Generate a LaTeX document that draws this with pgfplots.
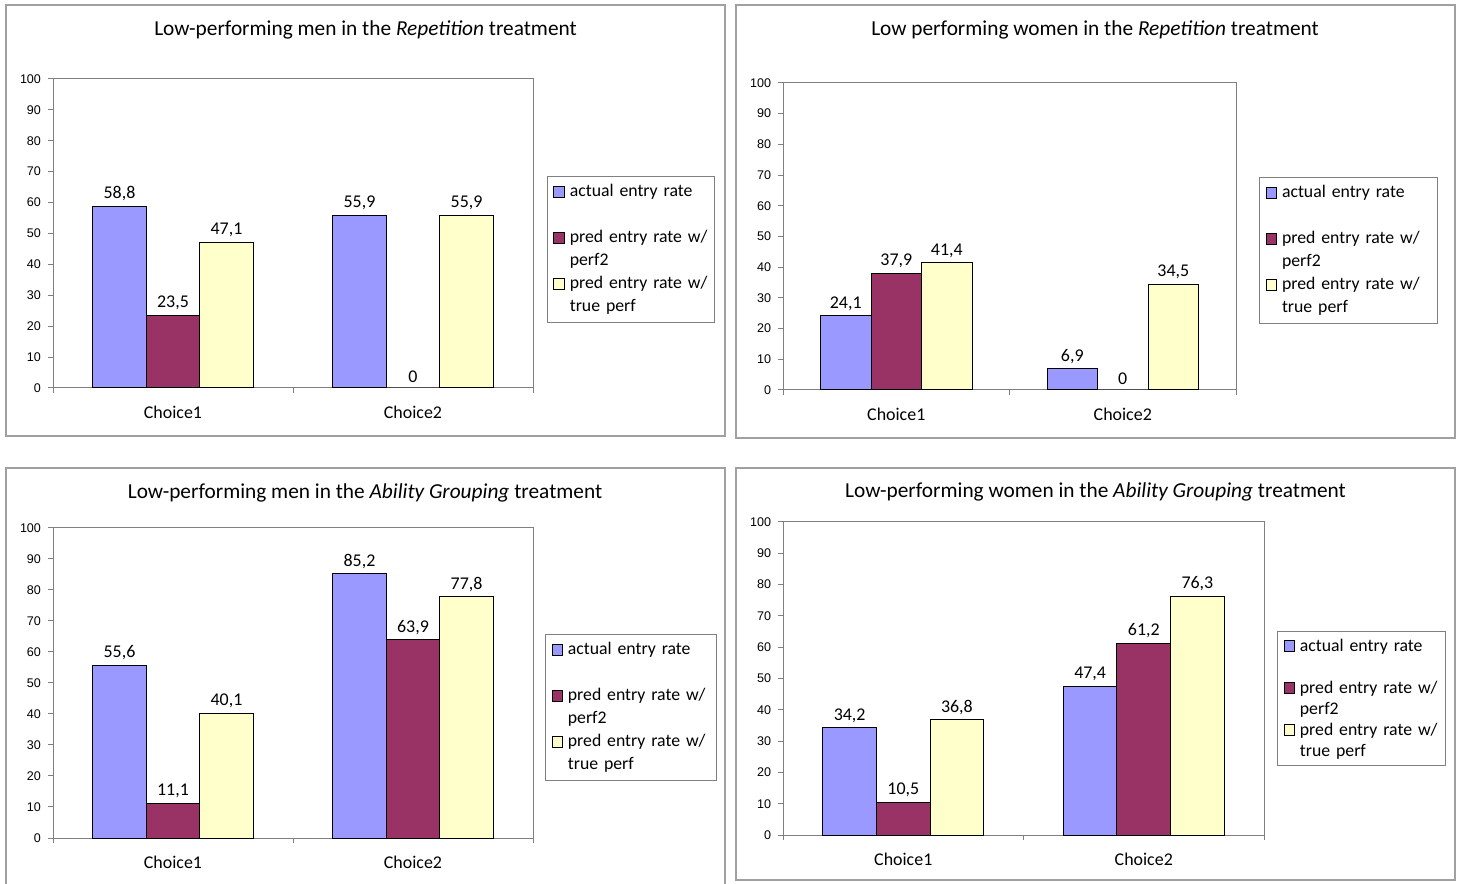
\documentclass[border=0pt]{standalone}
\usepackage{fontspec}
\setmainfont{Carlito}
\newfontfamily\arialfont{Liberation Sans}
\usepackage{pgfplots}
\pgfplotsset{compat=1.18}

\definecolor{actual}{HTML}{9999FF}
\definecolor{perftwo}{HTML}{993366}
\definecolor{trueperf}{HTML}{FFFFCC}
\definecolor{axisgray}{HTML}{808080}
\definecolor{framegray}{HTML}{A0A0A0}

\pgfplotsset{
  panel/.style={
    scale only axis,
    anchor=north west,
    xmin=-0.5, xmax=1.5, ymin=0, ymax=100,
    ytick={0,10,...,100},
    xtick={0,1}, xticklabels={Choice1,Choice2},
    minor xtick={-0.5,0.5,1.5},
    xtick pos=bottom, ytick pos=left,
    tick align=outside,
    major tick length=2.5bp, minor tick length=2.5bp,
    major x tick style={draw=none},
    tick style={axisgray, line width=0.5bp},
    axis line style={axisgray, line width=0.5bp},
    yticklabel style={font=\arialfont\fontsize{6.3}{7}\selectfont,
      /pgf/number format/assume math mode=true},
    xticklabel style={font=\fontsize{9}{11}\selectfont, yshift=-3bp},
    bar width=0.223,
    nodes near coords={\pgfmathprintnumber[fixed,precision=1,use comma,assume math mode=true]{\pgfplotspointmeta}},
    nodes near coords style={font=\fontsize{9}{11}\selectfont, black, anchor=south, inner sep=2.5bp},
    legend image code/.code={\draw[##1, line width=0.5bp] (0bp,-2.6bp) rectangle (5.2bp,2.6bp);},
    legend cell align=left,
    legend style={anchor=north west, draw=axisgray, line width=0.5bp,
      font=\fontsize{8.9}{11}\selectfont, row sep=0pt, inner xsep=3bp, inner ysep=2bp,
      nodes={inner sep=0pt, text height=8bp, text depth=3.5bp},
      /tikz/every odd column/.append style={column sep=2.5bp}},
  },
  bara/.style={ybar, forget plot, bar shift=-0.223, fill=actual, draw=black, line width=0.5bp,
    every node near coord/.append style={shift={(axis direction cs:-0.223,0)}}},
  barb/.style={ybar, forget plot, bar shift=0, fill=perftwo, draw=black, line width=0.5bp},
  barc/.style={ybar, forget plot, bar shift=0.223, fill=trueperf, draw=black, line width=0.5bp,
    every node near coord/.append style={shift={(axis direction cs:0.223,0)}}},
  legwidth/.style={legend style={/tikz/every even column/.append style={text width=#1}}},
}

\newcommand{\legendimages}{%
  \addlegendimage{fill=actual, draw=black}
  \addlegendimage{empty legend}
  \addlegendimage{fill=perftwo, draw=black}
  \addlegendimage{empty legend}
  \addlegendimage{fill=trueperf, draw=black}
  \addlegendimage{empty legend}
  \legend{\mbox{actual entry rate},\mbox{},\mbox{pred entry rate w/},perf2,
    \mbox{pred entry rate w/},\mbox{true perf}}
}

\begin{document}
\begin{tikzpicture}[x=0.5bp, y=0.5bp]
\useasboundingbox (0,0) rectangle (1461,883);

% panel frames
\draw[framegray, line width=0.75bp] (6,878) rectangle (725,447);
\draw[framegray, line width=0.75bp] (736,878) rectangle (1455,445);
\draw[framegray, line width=0.75bp] (6,-7) -- (6,415) -- (725,415) -- (725,-7);
\draw[framegray, line width=0.75bp] (736,415) rectangle (1455,3);

% titles
\node[anchor=base, font=\fontsize{10.7}{12}\selectfont] at (365.5,847)
  {Low-performing men in the \textit{Repetition} treatment};
\node[anchor=base, font=\fontsize{10.7}{12}\selectfont] at (1095,847)
  {Low performing women in the \textit{Repetition} treatment};
\node[anchor=base, font=\fontsize{10.7}{12}\selectfont] at (365,384)
  {Low-performing men in the \textit{Ability Grouping} treatment};
\node[anchor=base, font=\fontsize{10.7}{12}\selectfont] at (1095.5,385)
  {Low-performing women in the \textit{Ability Grouping} treatment};

% men, repetition
\begin{axis}[panel, at={(26.5bp,402bp)}, width=240bp, height=154.5bp,
  legend style={at={(1.029,0.686)}}, legwidth=69.5bp]
\addplot[bara] coordinates {(0,58.8) (1,55.9)};
\addplot[barb] coordinates {(0,23.5) (1,0)};
\addplot[barc] coordinates {(0,47.1) (1,55.9)};
\legendimages
\end{axis}

% women, repetition
\begin{axis}[panel, at={(391.5bp,400bp)}, width=226.5bp, height=153.5bp,
  legend style={at={(1.051,0.694)}}, legwidth=74.5bp]
\addplot[bara] coordinates {(0,24.1) (1,6.9)};
\addplot[barb] coordinates {(0,37.9) (1,0)};
\addplot[barc] coordinates {(0,41.4) (1,34.5)};
\legendimages
\end{axis}

% men, ability grouping
\begin{axis}[panel, at={(26.5bp,177.5bp)}, width=240bp, height=155bp,
  legend style={at={(1.025,0.658)}}, legwidth=71.5bp]
\addplot[bara] coordinates {(0,55.6) (1,85.2)};
\addplot[barb] coordinates {(0,11.1) (1,63.9)};
\addplot[barc] coordinates {(0,40.1) (1,77.8)};
\legendimages
\end{axis}

% women, ability grouping
\begin{axis}[panel, at={(391.5bp,180.5bp)}, width=240.5bp, height=156.5bp,
  legend style={at={(1.027,0.652)}, nodes={text depth=2.5bp}}, legwidth=70bp]
\addplot[bara] coordinates {(0,34.2) (1,47.4)};
\addplot[barb] coordinates {(0,10.5) (1,61.2)};
\addplot[barc] coordinates {(0,36.8) (1,76.3)};
\legendimages
\end{axis}
\end{tikzpicture}
\end{document}
